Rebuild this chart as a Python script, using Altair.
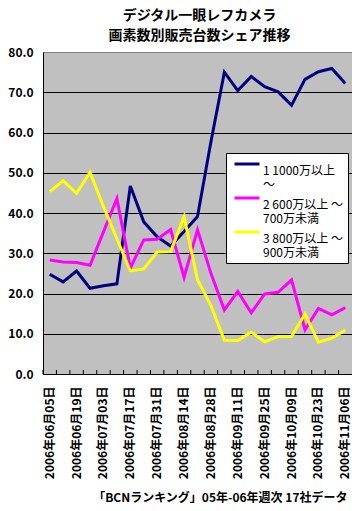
import json
import altair as alt
import pandas as pd

dates = [
    "2006年06月05日", "2006年06月12日", "2006年06月19日", "2006年06月26日",
    "2006年07月03日", "2006年07月10日", "2006年07月17日", "2006年07月24日",
    "2006年07月31日", "2006年08月07日", "2006年08月14日", "2006年08月21日",
    "2006年08月28日", "2006年09月04日", "2006年09月11日", "2006年09月18日",
    "2006年09月25日", "2006年10月02日", "2006年10月09日", "2006年10月16日",
    "2006年10月23日", "2006年10月30日", "2006年11月06日",
]
series_names = ["1 1000万以上\n〜", "2 600万以上 〜\n700万未満", "3 800万以上 〜\n900万未満"]
s1 = [24.8, 22.9, 25.6, 21.3, 21.9, 22.4, 46.7, 37.8, 34.1, 31.8, 35.4, 39.1,
      57.7, 75.0, 70.4, 73.9, 71.4, 70.1, 66.8, 73.2, 75.1, 75.9, 72.2]
s2 = [28.3, 27.8, 27.7, 27.0, 35.3, 43.6, 26.3, 33.3, 33.5, 35.9, 24.0, 35.8,
      25.0, 15.9, 20.5, 15.2, 19.9, 20.3, 23.4, 11.0, 16.3, 14.7, 16.5]
s3 = [45.3, 48.0, 44.9, 50.1, 41.6, 33.6, 25.6, 26.1, 30.3, 30.4, 39.1, 23.4,
      17.0, 8.4, 8.3, 10.4, 8.0, 9.3, 9.3, 14.9, 7.9, 8.9, 10.9]
colors = ["#000080", "#FF00FF", "#FFFF00"]
y_ticks = [0, 10, 20, 30, 40, 50, 60, 70, 80]
shown_dates = dates[::2]
title_lines = ["デジタル一眼レフカメラ", "画素数別販売台数シェア推移"]
footer = "「BCNランキング」05年-06年週次 17社データ"

rows = []
for name, vals in zip(series_names, [s1, s2, s3]):
    for d, v in zip(dates, vals):
        rows.append({"date": d, "series": name, "value": v})
df = pd.DataFrame(rows)
tick_df = pd.DataFrame({"date": dates})

FONT = "Noto Sans CJK JP"
x_scale = alt.Scale(type="band", domain=dates, paddingInner=0, paddingOuter=0)

label_expr = ("indexof(" + json.dumps(shown_dates, ensure_ascii=False)
              + ", datum.value) >= 0 ? datum.value : ''")

lines = alt.Chart(df).mark_line(strokeWidth=3).encode(
    x=alt.X("date:N", scale=x_scale, bandPosition=0.5, sort=dates,
            axis=alt.Axis(labelAngle=270, labelExpr=label_expr, ticks=False,
                          labelPadding=12, domainColor="black", labelColor="black",
                          labelFont=FONT, labelFontSize=12, labelFontWeight="bold",
                          title=footer, titleFont=FONT, titleFontSize=12,
                          titleFontWeight="bold", titleColor="black",
                          titleX=304, titleY=123, titleAlign="right",
                          titleBaseline="middle", grid=False)),
    y=alt.Y("value:Q", scale=alt.Scale(domain=[0, 80], nice=False),
            axis=alt.Axis(values=y_ticks, format=".1f", ticks=False, labelPadding=10,
                          domainColor="black", labelColor="black", labelFont=FONT,
                          labelFontSize=12, labelFontWeight="bold", title=None,
                          grid=True,
                          gridColor={"condition": {"test": "datum.value >= 80", "value": "#808080"},
                                     "value": "black"},
                          gridOpacity=1)),
    color=alt.Color("series:N", scale=alt.Scale(domain=series_names, range=colors),
                    legend=alt.Legend(title=None, orient="none", legendX=183, legendY=101,
                                      fillColor="white", strokeColor="black", padding=4,
                                      symbolType="M-1,-0.56L1,-0.56", symbolSize=625,
                                      symbolStrokeWidth=3, symbolOffset=3,
                                      labelExpr="split(datum.label, '\\n')",
                                      labelFont=FONT, labelFontSize=12, labelColor="black",
                                      labelLimit=200, rowPadding=-5, labelOffset=2,
                                      labelBaseline="middle")),
    order=alt.value(0),
)

ticks = alt.Chart(tick_df).mark_rule(color="black", strokeWidth=1).encode(
    x=alt.X("date:N", scale=x_scale, bandPosition=0, sort=dates),
    y=alt.value(322),
    y2=alt.value(318),
)

chart = alt.layer(lines, ticks).properties(
    width=309,
    height=322,
    padding={"left": 35, "top": 44, "right": 0, "bottom": 129},
    autosize=alt.AutoSizeParams(type="none"),
    background="white",
    title=alt.TitleParams(text=title_lines, font=FONT, fontSize=14, fontWeight="bold",
                          color="black", lineHeight=20, anchor="middle", frame="group",
                          offset=3, dx=2),
).configure_view(
    fill="#C0C0C0", stroke="#808080", strokeWidth=1
)

chart.save("out.html", embed_options={"renderer": "svg", "actions": False})
